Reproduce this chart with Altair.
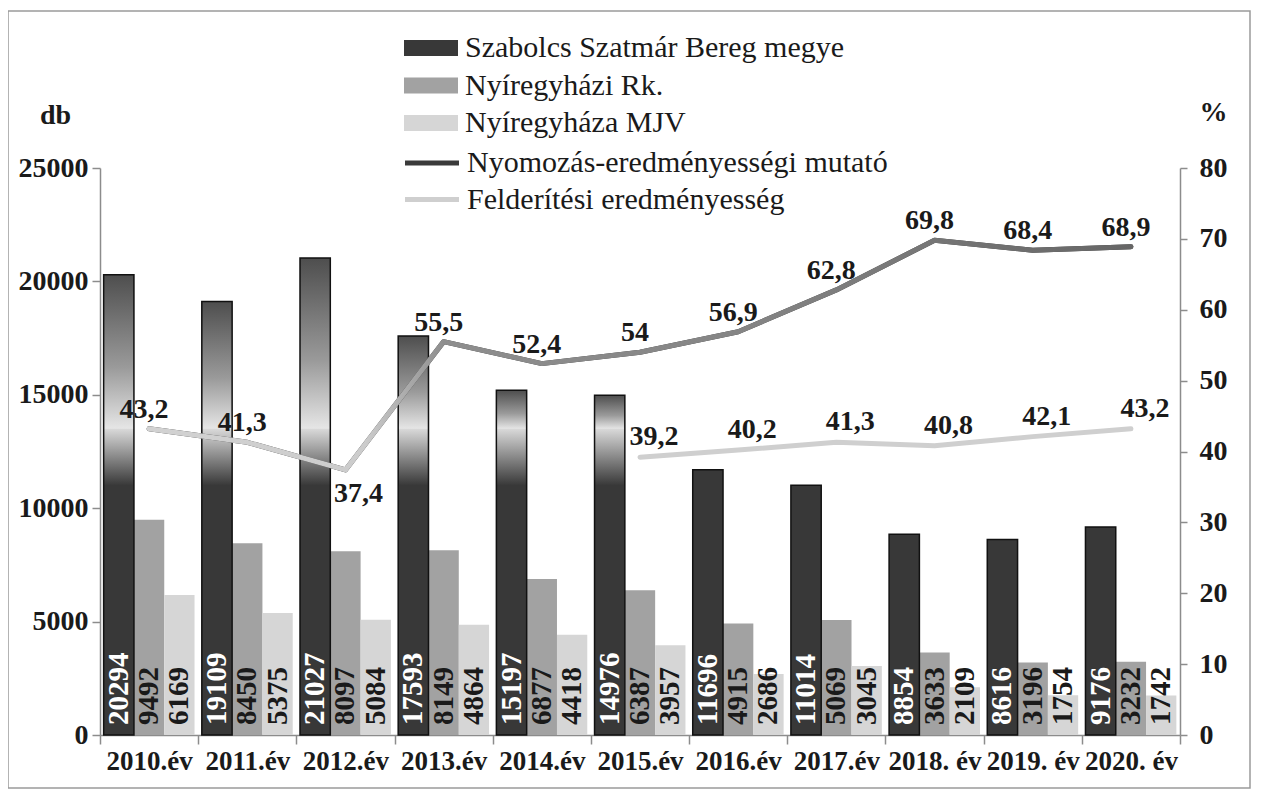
import altair as alt
import pandas as pd

years = ["2010.év", "2011.év", "2012.év", "2013.év", "2014.év", "2015.év",
         "2016.év", "2017.év", "2018. év", "2019. év", "2020. év"]
megye = [20294, 19109, 21027, 17593, 15197, 14976, 11696, 11014, 8854, 8616, 9176]
rk = [9492, 8450, 8097, 8149, 6877, 6387, 4915, 5069, 3633, 3196, 3232]
mjv = [6169, 5375, 5084, 4864, 4418, 3957, 2686, 3045, 2109, 1754, 1742]
nyomozas = [43.2, 41.3, 37.4, 55.5, 52.4, 54, 56.9, 62.8, 69.8, 68.4, 68.9]
felderitesi = [None, None, None, None, None, 39.2, 40.2, 41.3, 40.8, 42.1, 43.2]

series_bars = ["Szabolcs Szatmár Bereg megye", "Nyíregyházi Rk.", "Nyíregyháza MJV"]
series_lines = ["Nyomozás-eredményességi mutató", "Felderítési eredményesség"]
bar_colors = ["#383838", "#a2a2a2", "#d6d6d6"]
line_colors = ["#3a3a3a", "#cfcfcf"]

bar_rows = []
for i, yr in enumerate(years):
    for s, vals in zip(series_bars, [megye, rk, mjv]):
        bar_rows.append({"year": yr, "series": s, "value": vals[i]})
bars_df = pd.DataFrame(bar_rows)

line_rows = []
for i, yr in enumerate(years):
    for s, vals in zip(series_lines, [nyomozas, felderitesi]):
        if vals[i] is not None:
            line_rows.append({"year": yr, "series": s, "pct": vals[i], "idx": i})
lines_df = pd.DataFrame(line_rows)

FONT = "Liberation Serif"
AX = "#8c8c8c"
TXT = "#1a1a1a"

x_enc = alt.X(
    "year:N", sort=years,
    scale=alt.Scale(domain=years, paddingInner=0, paddingOuter=0),
    axis=alt.Axis(title=None, labelAngle=0, labelFont=FONT, labelFontSize=27,
                  labelFontWeight="bold", labelColor=TXT, tickBand="extent",
                  tickSize=9, tickColor=AX, domainColor=AX, domainWidth=1.5,
                  tickWidth=1.5, labelPadding=4, grid=False),
)
xoff = alt.XOffset("series:N", sort=series_bars,
                   scale=alt.Scale(domain=series_bars, paddingOuter=0.12, paddingInner=0))

left_axis = alt.Axis(values=[0, 5000, 10000, 15000, 20000, 25000], format="d",
                     title="db", titleAngle=0, titleX=-45, titleY=-53,
                     titleAlign="center", titleBaseline="middle", titleFont=FONT,
                     titleFontSize=28, titleFontWeight="bold", titleColor=TXT,
                     labelFont=FONT, labelFontSize=28, labelFontWeight="bold",
                     labelColor=TXT, tickSize=8, tickColor=AX, domainColor=AX,
                     domainWidth=1.5, tickWidth=1.5, labelPadding=4, grid=False)
left_scale = alt.Scale(domain=[0, 25000], nice=False)

def yl(field):
    return alt.Y(field, scale=left_scale, axis=left_axis)

dark = series_bars[0]
base = alt.Chart(bars_df)

bars = base.mark_bar().encode(
    x=x_enc, xOffset=xoff, y=yl("value:Q"),
    fill=alt.Fill("series:N", sort=series_bars,
                  scale=alt.Scale(domain=series_bars, range=bar_colors),
                  legend=alt.Legend(title=None, orient="none", legendX=316, legendY=-135,
                                    direction="vertical", padding=0,
                                    symbolType="M-2,-0.6H2V0.6H-2Z", symbolSize=729,
                                    symbolStrokeWidth=0, labelFont=FONT, labelFontSize=30,
                                    labelFontWeight="normal", labelColor=TXT,
                                    labelOffset=19, rowPadding=7.5, labelLimit=900)),
)

glow_lo = (base.transform_filter(alt.datum.series == dark)
           .transform_filter(alt.datum.value > 13600)
           .transform_calculate(lo="11000", mid="13700")
           .mark_bar(fill={"gradient": "linear", "x1": 0, "y1": 0, "x2": 0, "y2": 1,
                           "stops": [{"offset": 0, "color": "#e6e6e6"},
                                     {"offset": 1, "color": "#383838"}]})
           .encode(x=x_enc, xOffset=xoff, y=yl("lo:Q"), y2="mid:Q"))

glow_hi = (base.transform_filter(alt.datum.series == dark)
           .transform_filter(alt.datum.value > 13600)
           .transform_calculate(mid="13500")
           .mark_bar(fill={"gradient": "linear", "x1": 0, "y1": 0, "x2": 0, "y2": 1,
                           "stops": [{"offset": 0, "color": "#4e4e4e"},
                                     {"offset": 0.6, "color": "#9a9a9a"},
                                     {"offset": 1, "color": "#e6e6e6"}]})
           .encode(x=x_enc, xOffset=xoff, y=yl("mid:Q"), y2="value:Q"))

outline = (base.transform_filter(alt.datum.series == dark)
           .mark_bar(fillOpacity=0, stroke="#111111", strokeWidth=1.5)
           .encode(x=x_enc, xOffset=xoff, y=yl("value:Q")))

bar_text = (base.transform_calculate(zero="0")
            .mark_text(angle=270, align="left", baseline="middle", dx=10,
                       font=FONT, fontSize=29, fontWeight="bold")
            .encode(x=x_enc, xOffset=xoff, y=yl("zero:Q"), text="value:Q",
                    color=alt.condition(alt.datum.series == dark,
                                        alt.value("white"), alt.value(TXT))))

bar_group = alt.layer(bars, glow_lo, glow_hi, outline, bar_text)

right_axis = alt.Axis(orient="right", values=list(range(0, 90, 10)), title="%",
                      titleAngle=0, titleX=33, titleY=-56, titleAlign="center",
                      titleBaseline="middle", titleFont=FONT, titleFontSize=28,
                      titleFontWeight="bold", titleColor=TXT, labelFont=FONT,
                      labelFontSize=28, labelFontWeight="bold", labelColor=TXT,
                      tickSize=7, tickColor=AX, domainColor=AX, domainWidth=1.5,
                      tickWidth=1.5, labelPadding=12, grid=False)
right_scale = alt.Scale(domain=[0, 80], nice=False)

def yr_(field):
    return alt.Y(field, scale=right_scale, axis=right_axis)

lbase = (alt.Chart(lines_df)
         .transform_window(window=[{"op": "lead", "field": "pct", "as": "nxt"}],
                           groupby=["series"], sort=[{"field": "idx"}])
         .transform_calculate(lbl="replace(toString(datum.pct), '.', ',')",
                              below="datum.nxt != null && datum.nxt - datum.pct > 10"))

lines = lbase.mark_line(strokeWidth=5, strokeCap="round", strokeJoin="round").encode(
    x=x_enc, y=yr_("pct:Q"),
    stroke=alt.Stroke("series:N", sort=series_lines,
                      scale=alt.Scale(domain=series_lines, range=line_colors),
                      legend=alt.Legend(title=None, orient="none", legendX=316, legendY=-21,
                                        direction="vertical", padding=0,
                                        symbolType="M-2,0H2", symbolSize=729,
                                        symbolStrokeWidth=5, labelFont=FONT,
                                        labelFontSize=30, labelFontWeight="normal",
                                        labelColor=TXT, labelOffset=19,
                                        rowPadding=5.5, labelLimit=900)),
    order="idx:Q",
)

grad_line = (lbase.transform_filter(alt.datum.series == series_lines[0])
             .mark_line(strokeWidth=5, strokeCap="round", strokeJoin="round",
                        stroke={"gradient": "linear", "x1": 0, "y1": 0, "x2": 1, "y2": 0,
                                "stops": [{"offset": 0, "color": "#d2d2d2"},
                                          {"offset": 0.22, "color": "#cccccc"},
                                          {"offset": 0.3, "color": "#8e8e8e"},
                                          {"offset": 0.6, "color": "#858585"},
                                          {"offset": 1, "color": "#666666"}]})
             .encode(x=x_enc, y=yr_("pct:Q"), order="idx:Q"))

lab_kw = dict(font=FONT, fontSize=28, fontWeight="bold", color=TXT)
lab_n = (lbase.transform_filter(alt.datum.series == series_lines[0])
         .transform_filter("!datum.below")
         .mark_text(align="center", baseline="bottom", dx=-5, dy=-5, **lab_kw)
         .encode(x=x_enc, y=yr_("pct:Q"), text="lbl:N"))
lab_f = (lbase.transform_filter(alt.datum.series == series_lines[1])
         .transform_filter("!datum.below")
         .mark_text(align="center", baseline="bottom", dx=14, dy=-6, **lab_kw)
         .encode(x=x_enc, y=yr_("pct:Q"), text="lbl:N"))
lab_b = (lbase.transform_filter("datum.below")
         .mark_text(align="center", baseline="top", dx=13, dy=10, **lab_kw)
         .encode(x=x_enc, y=yr_("pct:Q"), text="lbl:N"))

line_group = alt.layer(lines, grad_line, lab_n, lab_f, lab_b)

frame = alt.Chart(alt.Data(values=[{"f": 1}])).mark_rect(
    fillOpacity=0, stroke="#9a9a9a", strokeWidth=1.5
).encode(x=alt.value(-92), x2=alt.value(1150), y=alt.value(-157), y2=alt.value(620))

chart = (alt.layer(frame, bar_group, line_group)
         .resolve_scale(y="independent")
         .properties(width=1080, height=567,
                     autosize=alt.AutoSizeParams(type="none"),
                     padding={"left": 92, "top": 160, "right": 80, "bottom": 57},
                     background="white")
         .configure_view(stroke=None))

chart.save("out.html", embed_options={"renderer": "svg", "actions": False})
